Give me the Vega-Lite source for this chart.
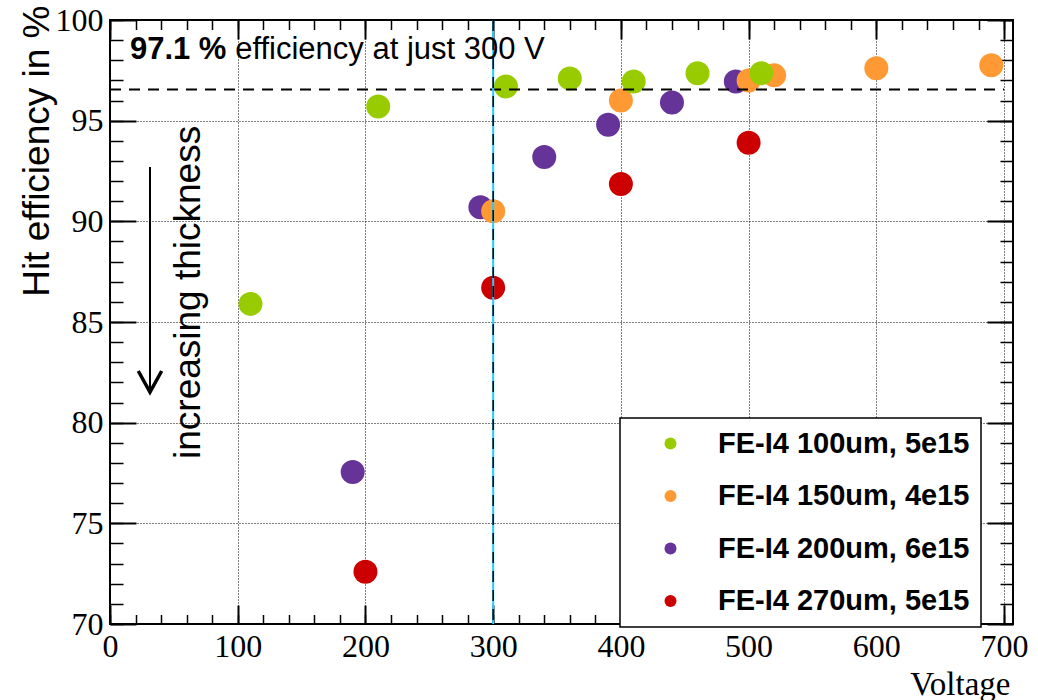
{
  "$schema": "https://vega.github.io/schema/vega-lite/v6.json",
  "width": 903,
  "height": 604,
  "autosize": {"type": "none"},
  "padding": {"left": 110, "top": 20, "right": 25, "bottom": 76},
  "background": "white",
  "config": {
    "view": {"stroke": "black", "strokeWidth": 2}
  },
  "layer": [
    {
      "data": {
        "values": [
          {"series": "FE-I4 200um, 6e15", "voltage": 190, "efficiency": 77.55},
          {"series": "FE-I4 200um, 6e15", "voltage": 290, "efficiency": 90.7},
          {"series": "FE-I4 200um, 6e15", "voltage": 340, "efficiency": 93.2},
          {"series": "FE-I4 200um, 6e15", "voltage": 390, "efficiency": 94.8},
          {"series": "FE-I4 200um, 6e15", "voltage": 440, "efficiency": 95.9},
          {"series": "FE-I4 200um, 6e15", "voltage": 490, "efficiency": 96.95},
          {"series": "FE-I4 270um, 5e15", "voltage": 200, "efficiency": 72.6},
          {"series": "FE-I4 270um, 5e15", "voltage": 300, "efficiency": 86.7},
          {"series": "FE-I4 270um, 5e15", "voltage": 400, "efficiency": 91.85},
          {"series": "FE-I4 270um, 5e15", "voltage": 500, "efficiency": 93.9},
          {"series": "FE-I4 150um, 4e15", "voltage": 300, "efficiency": 90.5},
          {"series": "FE-I4 150um, 4e15", "voltage": 400, "efficiency": 96.0},
          {"series": "FE-I4 150um, 4e15", "voltage": 500, "efficiency": 97.0},
          {"series": "FE-I4 150um, 4e15", "voltage": 520, "efficiency": 97.25},
          {"series": "FE-I4 150um, 4e15", "voltage": 600, "efficiency": 97.6},
          {"series": "FE-I4 150um, 4e15", "voltage": 690, "efficiency": 97.75},
          {"series": "FE-I4 100um, 5e15", "voltage": 110, "efficiency": 85.9},
          {"series": "FE-I4 100um, 5e15", "voltage": 210, "efficiency": 95.7},
          {"series": "FE-I4 100um, 5e15", "voltage": 310, "efficiency": 96.7},
          {"series": "FE-I4 100um, 5e15", "voltage": 360, "efficiency": 97.1},
          {"series": "FE-I4 100um, 5e15", "voltage": 410, "efficiency": 96.95},
          {"series": "FE-I4 100um, 5e15", "voltage": 460, "efficiency": 97.35},
          {"series": "FE-I4 100um, 5e15", "voltage": 510, "efficiency": 97.35}
        ]
      },
      "mark": {"type": "circle", "size": 576, "opacity": 1, "strokeWidth": 0},
      "encoding": {
        "x": {
          "field": "voltage", "type": "quantitative",
          "scale": {"domain": [0, 707], "nice": false, "zero": false},
          "axis": {
            "orient": "bottom",
            "values": [0, 100, 200, 300, 400, 500, 600, 700],
            "domain": false,
            "offset": -19,
            "tickSize": 19,
            "tickColor": "#000000",
            "tickWidth": 2,
            "labelPadding": 7,
            "labelFont": "Liberation Serif",
            "labelFontSize": 32,
            "labelColor": "black",
            "labelFlush": false,
            "labelOverlap": false,
            "grid": false,
            "title": "Voltage",
            "titleColor": "black",
            "titleFont": "Liberation Serif",
            "titleFontSize": 33,
            "titleFontWeight": "normal",
            "titleAlign": "right",
            "titleBaseline": "alphabetic",
            "titleX": 900,
            "titleY": 89
          }
        },
        "y": {
          "field": "efficiency", "type": "quantitative",
          "scale": {"domain": [70, 100], "nice": false, "zero": false},
          "axis": {
            "orient": "left",
            "values": [70, 75, 80, 85, 90, 95, 100],
            "domain": false,
            "tickSize": -26,
            "tickColor": "#000000",
            "tickWidth": 2,
            "labelPadding": 33,
            "labelFont": "Liberation Serif",
            "labelFontSize": 32,
            "labelColor": "black",
            "labelFlush": false,
            "labelOverlap": false,
            "grid": true,
            "gridColor": "black",
            "gridDash": [1, 2],
            "gridWidth": 1,
            "gridOpacity": 1,
            "title": "Hit efficiency in %",
            "titleColor": "black",
            "titleFont": "Liberation Sans",
            "titleFontSize": 37,
            "titleFontWeight": "normal",
            "titleAngle": 270,
            "titleAlign": "right",
            "titleBaseline": "alphabetic",
            "titleX": -62,
            "titleY": -15
          }
        },
        "color": {
          "field": "series", "type": "nominal",
          "scale": {
            "domain": ["FE-I4 100um, 5e15", "FE-I4 150um, 4e15", "FE-I4 200um, 6e15", "FE-I4 270um, 5e15"],
            "range": ["#99cc00", "#ff9933", "#663399", "#cc0000"]
          },
          "legend": {
            "orient": "none",
            "legendX": 510,
            "legendY": 398,
            "title": null,
            "padding": 11,
            "fillColor": "white",
            "strokeColor": "black",
            "symbolType": "circle",
            "symbolSize": 144,
            "symbolStrokeWidth": 0,
            "symbolOpacity": 1,
            "symbolOffset": 25,
            "labelOffset": 33,
            "labelFont": "Liberation Sans",
            "labelFontSize": 29,
            "labelFontWeight": "bold",
            "labelColor": "black",
            "labelLimit": 600,
            "rowPadding": 22.5,
            "labelExpr": "datum.label + '\u00a0\u00a0\u00a0\u00a0\u00a0'",
            "encode": {"legend": {"update": {"strokeWidth": {"value": 1.5}}}}
          }
        }
      }
    },
    {
      "data": {"values": [{"x0": 0, "x1": 700, "eff": 96.55}]},
      "mark": {"type": "rule", "color": "black", "strokeWidth": 2, "strokeDash": [11, 8]},
      "encoding": {
        "x": {
          "field": "x0", "type": "quantitative",
          "scale": {"domain": [0, 707], "nice": false, "zero": false},
          "axis": {"orient": "top", "values": [0, 100, 200, 300, 400, 500, 600, 700], "domain": false, "tickSize": -19, "tickColor": "#000000", "tickWidth": 2, "labels": false, "grid": false, "title": null}
        },
        "x2": {"field": "x1"},
        "y": {
          "field": "eff", "type": "quantitative",
          "scale": {"domain": [70, 100], "nice": false, "zero": false},
          "axis": {"orient": "right", "values": [70, 75, 80, 85, 90, 95, 100], "domain": false, "tickSize": -26, "tickColor": "#000000", "tickWidth": 2, "labels": false, "grid": false, "title": null}
        }
      }
    },
    {
      "data": {"values": [{"v": 31.3, "top": 92.7, "tip": 81.6}]},
      "mark": {"type": "rule", "color": "black", "strokeWidth": 2},
      "encoding": {
        "x": {
          "field": "v", "type": "quantitative",
          "scale": {"domain": [0, 707], "nice": false, "zero": false},
          "axis": {"orient": "bottom", "values": [0, 20, 40, 60, 80, 100, 120, 140, 160, 180, 200, 220, 240, 260, 280, 300, 320, 340, 360, 380, 400, 420, 440, 460, 480, 500, 520, 540, 560, 580, 600, 620, 640, 660, 680, 700], "domain": false, "tickSize": -9.5, "tickColor": "#000000", "tickWidth": 1.5, "labels": false, "grid": false, "title": null}
        },
        "y": {
          "field": "top", "type": "quantitative",
          "scale": {"domain": [70, 100], "nice": false, "zero": false},
          "axis": {"orient": "left", "values": [70, 71, 72, 73, 74, 75, 76, 77, 78, 79, 80, 81, 82, 83, 84, 85, 86, 87, 88, 89, 90, 91, 92, 93, 94, 95, 96, 97, 98, 99, 100], "domain": false, "tickSize": -13, "tickColor": "#000000", "tickWidth": 1.5, "labels": false, "grid": false, "title": null}
        },
        "y2": {"field": "tip"}
      }
    },
    {
      "data": {"values": [{"v": 31.3, "tip": 81.52}]},
      "mark": {"type": "point", "shape": "M-1,-1.8L0,0L1,-1.8", "size": 548, "filled": false, "color": "black", "strokeWidth": 3.5, "opacity": 1},
      "encoding": {
        "x": {
          "field": "v", "type": "quantitative",
          "scale": {"domain": [0, 707], "nice": false, "zero": false},
          "axis": {"orient": "top", "values": [0, 20, 40, 60, 80, 100, 120, 140, 160, 180, 200, 220, 240, 260, 280, 300, 320, 340, 360, 380, 400, 420, 440, 460, 480, 500, 520, 540, 560, 580, 600, 620, 640, 660, 680, 700], "domain": false, "tickSize": -9.5, "tickColor": "#000000", "tickWidth": 1.5, "labels": false, "grid": false, "title": null}
        },
        "y": {
          "field": "tip", "type": "quantitative",
          "scale": {"domain": [70, 100], "nice": false, "zero": false},
          "axis": {"orient": "right", "values": [70, 71, 72, 73, 74, 75, 76, 77, 78, 79, 80, 81, 82, 83, 84, 85, 86, 87, 88, 89, 90, 91, 92, 93, 94, 95, 96, 97, 98, 99, 100], "domain": false, "tickSize": -13, "tickColor": "#000000", "tickWidth": 1.5, "labels": false, "grid": false, "title": null}
        }
      }
    },
    {
      "data": {"values": [{"v": 300}]},
      "mark": {"type": "rule", "color": "#22ccff", "strokeWidth": 2},
      "encoding": {
        "x": {"field": "v", "type": "quantitative", "scale": {"domain": [0, 707], "nice": false, "zero": false}, "axis": null}
      }
    },
    {
      "data": {"values": [{"v": 300}]},
      "mark": {"type": "rule", "color": "black", "strokeWidth": 1.5, "strokeDash": [11, 8]},
      "encoding": {
        "x": {"field": "v", "type": "quantitative", "scale": {"domain": [0, 707], "nice": false, "zero": false}, "axis": null}
      }
    },
    {
      "data": {"values": [{"v": 15.6, "eff": 98.04, "label": "97.1 %"}]},
      "mark": {"type": "text", "font": "Liberation Sans", "fontSize": 31, "fontWeight": "bold", "align": "left", "baseline": "alphabetic", "color": "black"},
      "encoding": {
        "x": {
          "field": "v", "type": "quantitative",
          "scale": {"domain": [0, 707], "nice": false, "zero": false},
          "axis": {"orient": "bottom", "values": [0, 100, 200, 300, 400, 500, 600, 700], "domain": false, "ticks": false, "labels": false, "grid": true, "gridColor": "black", "gridDash": [1, 2], "gridWidth": 1, "gridOpacity": 1, "title": null}
        },
        "y": {"field": "eff", "type": "quantitative", "scale": {"domain": [70, 100], "nice": false, "zero": false}, "axis": null},
        "text": {"field": "label"}
      }
    },
    {
      "data": {"values": [{"v": 98, "eff": 98.04, "label": "efficiency at just 300 V"}]},
      "mark": {"type": "text", "font": "Liberation Sans", "fontSize": 31, "fontWeight": "normal", "align": "left", "baseline": "alphabetic", "color": "black"},
      "encoding": {
        "x": {"field": "v", "type": "quantitative", "scale": {"domain": [0, 707], "nice": false, "zero": false}, "axis": null},
        "y": {"field": "eff", "type": "quantitative", "scale": {"domain": [70, 100], "nice": false, "zero": false}, "axis": null},
        "text": {"field": "label"}
      }
    },
    {
      "data": {"values": [{"v": 70.4, "eff": 86.47, "label": "increasing thickness"}]},
      "mark": {"type": "text", "font": "Liberation Sans", "fontSize": 37, "fontWeight": "normal", "align": "center", "baseline": "alphabetic", "angle": 270, "color": "black"},
      "encoding": {
        "x": {"field": "v", "type": "quantitative", "scale": {"domain": [0, 707], "nice": false, "zero": false}, "axis": null},
        "y": {"field": "eff", "type": "quantitative", "scale": {"domain": [70, 100], "nice": false, "zero": false}, "axis": null},
        "text": {"field": "label"}
      }
    }
  ],
  "resolve": {"axis": {"x": "independent", "y": "independent"}}
}
